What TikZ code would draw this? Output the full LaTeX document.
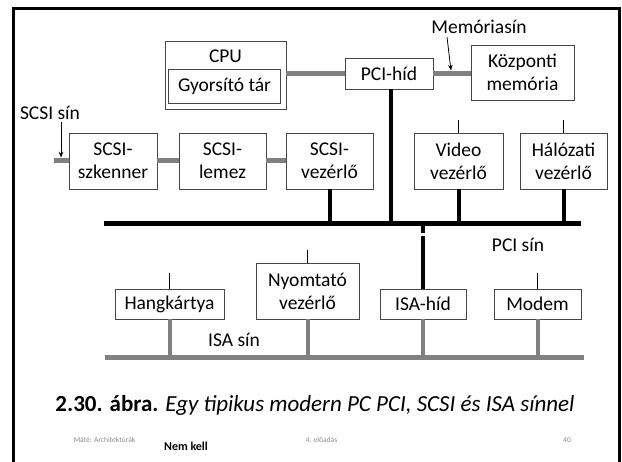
\documentclass[tikz,border=0pt]{standalone}
\usepackage{fontspec}
\setmainfont{Carlito}
\usepackage{tikz}
\usetikzlibrary{arrows.meta,positioning,calc}
\definecolor{busgray}{RGB}{128,128,128}
\definecolor{boxline}{RGB}{70,70,70}
\definecolor{footgray}{RGB}{140,140,140}
\tikzset{
  box/.style    ={rectangle, draw=boxline, line width=0.8pt, fill=white, align=center,
                  inner sep=0pt, font=\fontsize{19.5}{23}\selectfont},
  txt/.style    ={inner sep=0pt, font=\fontsize{19.5}{23}\selectfont},
  graybus/.style={draw=busgray, line width=5pt},
  blackbus/.style={draw=black, line width=5pt},
  drop/.style   ={draw=black, line width=4pt},
  graydrop/.style={draw=busgray, line width=4pt},
  stub/.style   ={draw=black, line width=1.3pt},
  pointer/.style={-{Stealth[length=2mm,width=1.6mm]}, draw=black, line width=0.8pt},
  foot/.style   ={inner sep=0pt, text=footgray, font=\fontsize{7.5}{9}\selectfont}
}
\begin{document}
\begin{tikzpicture}[x=1pt,y=-1pt]
\useasboundingbox (0,0) rectangle (622,462);
% Frame
\draw[line width=3pt] (13.5,462) -- (13.5,8.5) -- (619.5,8.5) -- (619.5,462);
% CPU, bridge, memory
\node[box, minimum width=121, minimum height=68] (cpu) at (225.5,75) {};
\node[txt] (cputxt) at (225.5,56) {CPU};
\node[box, minimum width=112, minimum height=34] (cache) at (224.5,86) {Gyorsító tár};
\node[box, minimum width=88, minimum height=31] (pcihid) at (389,73.5) {PCI-híd};
\node[box, minimum width=103, minimum height=55] (mem) at (522.5,72.5) {Központi\\memória};
\node[txt] (memsin) at (479,27) {Memóriasín};
\draw[graybus] (cpu.east |- pcihid.west) -- (pcihid.west);
\draw[graybus] (pcihid.east) -- (mem.west |- pcihid.east);
\coordinate (memarr) at (447,37);
\draw[pointer] (memarr) -- (451,70.5);
% SCSI bus
\node[txt] (scsisin) at (50,113) {SCSI sín};
\node[box, minimum width=88, minimum height=56] (scanner) at (113,161) {SCSI-\\szkenner};
\node[box, minimum width=87, minimum height=56] (lemez) at (222.5,161) {SCSI-\\lemez};
\node[box, minimum width=87, minimum height=56] (scsivez) at (329.5,161) {SCSI-\\vezérlő};
\node[box, minimum width=89, minimum height=56] (video) at (458.5,161) {Video\\vezérlő};
\node[box, minimum width=87, minimum height=56] (haloz) at (563.5,161) {Hálózati\\vezérlő};
\coordinate (scsiend) at (54,161);
\draw[graybus] (scsiend) -- (scanner.west);
\draw[graybus] (scanner.east) -- (lemez.west);
\draw[graybus] (lemez.east) -- (scsivez.west);
\draw[pointer] (61,122) -- (61,157.5);
\draw[stub] (video.north) -- ++(0,-13);
\draw[stub] (haloz.north) -- ++(0,-13);
% PCI bus
\coordinate (pciL) at (104,224);
\coordinate (pciR) at (581,224);
\draw[blackbus] (pciL) -- (pciR);
\node[txt] (pcisin) at (518,245) {PCI sín};
\draw[drop] (pcihid.south -| 391,0) -- (391,224);
\draw[drop] (scsivez.south) -- (scsivez.south |- pciL);
\draw[drop] (video.south) -- (video.south |- pciL);
\draw[drop] (haloz.south) -- (haloz.south |- pciL);
% ISA bus
\node[box, minimum width=109, minimum height=30] (hang) at (169.5,304) {Hangkártya};
\node[box, minimum width=103, minimum height=56] (nyomt) at (307.5,291) {Nyomtató\\vezérlő};
\node[box, minimum width=86, minimum height=30] (isahid) at (423,304) {ISA-híd};
\node[box, minimum width=87, minimum height=30] (modem) at (537.5,304) {Modem};
\draw[stub] (hang.north) -- ++(0,-16);
\draw[stub] (nyomt.north) -- ++(0,-13);
\draw[stub] (modem.north) -- ++(0,-16);
\draw[drop] (isahid.north |- pciL) -- (423,233);
\draw[drop] (423,236.5) -- (isahid.north);
\coordinate (isaL) at (105,358);
\coordinate (isaR) at (584,358);
\draw[graybus] (isaL) -- (isaR);
\foreach \n in {hang,nyomt,isahid,modem}
  \draw[graydrop] (\n.south) -- (\n.south |- isaL);
\node[txt] (isasin) at (234,340) {ISA sín};
% Caption and footer
\node[inner sep=0pt, font=\fontsize{23}{27}\selectfont] (caption) at (315,405)
  {\textbf{2.30. ábra.} \textit{Egy tipikus modern PC PCI, SCSI és ISA sínnel}};
\node[foot] (author) at (104.5,440) {Máté: Architektúrák};
\node[inner sep=0pt, font=\fontsize{12}{14}\selectfont\bfseries] (nemkell) at (186,446) {Nem kell};
\node[foot] (lecture) at (321.5,440) {4. előadás};
\node[foot] (page) at (567,440) {40};
\end{tikzpicture}
\end{document}
